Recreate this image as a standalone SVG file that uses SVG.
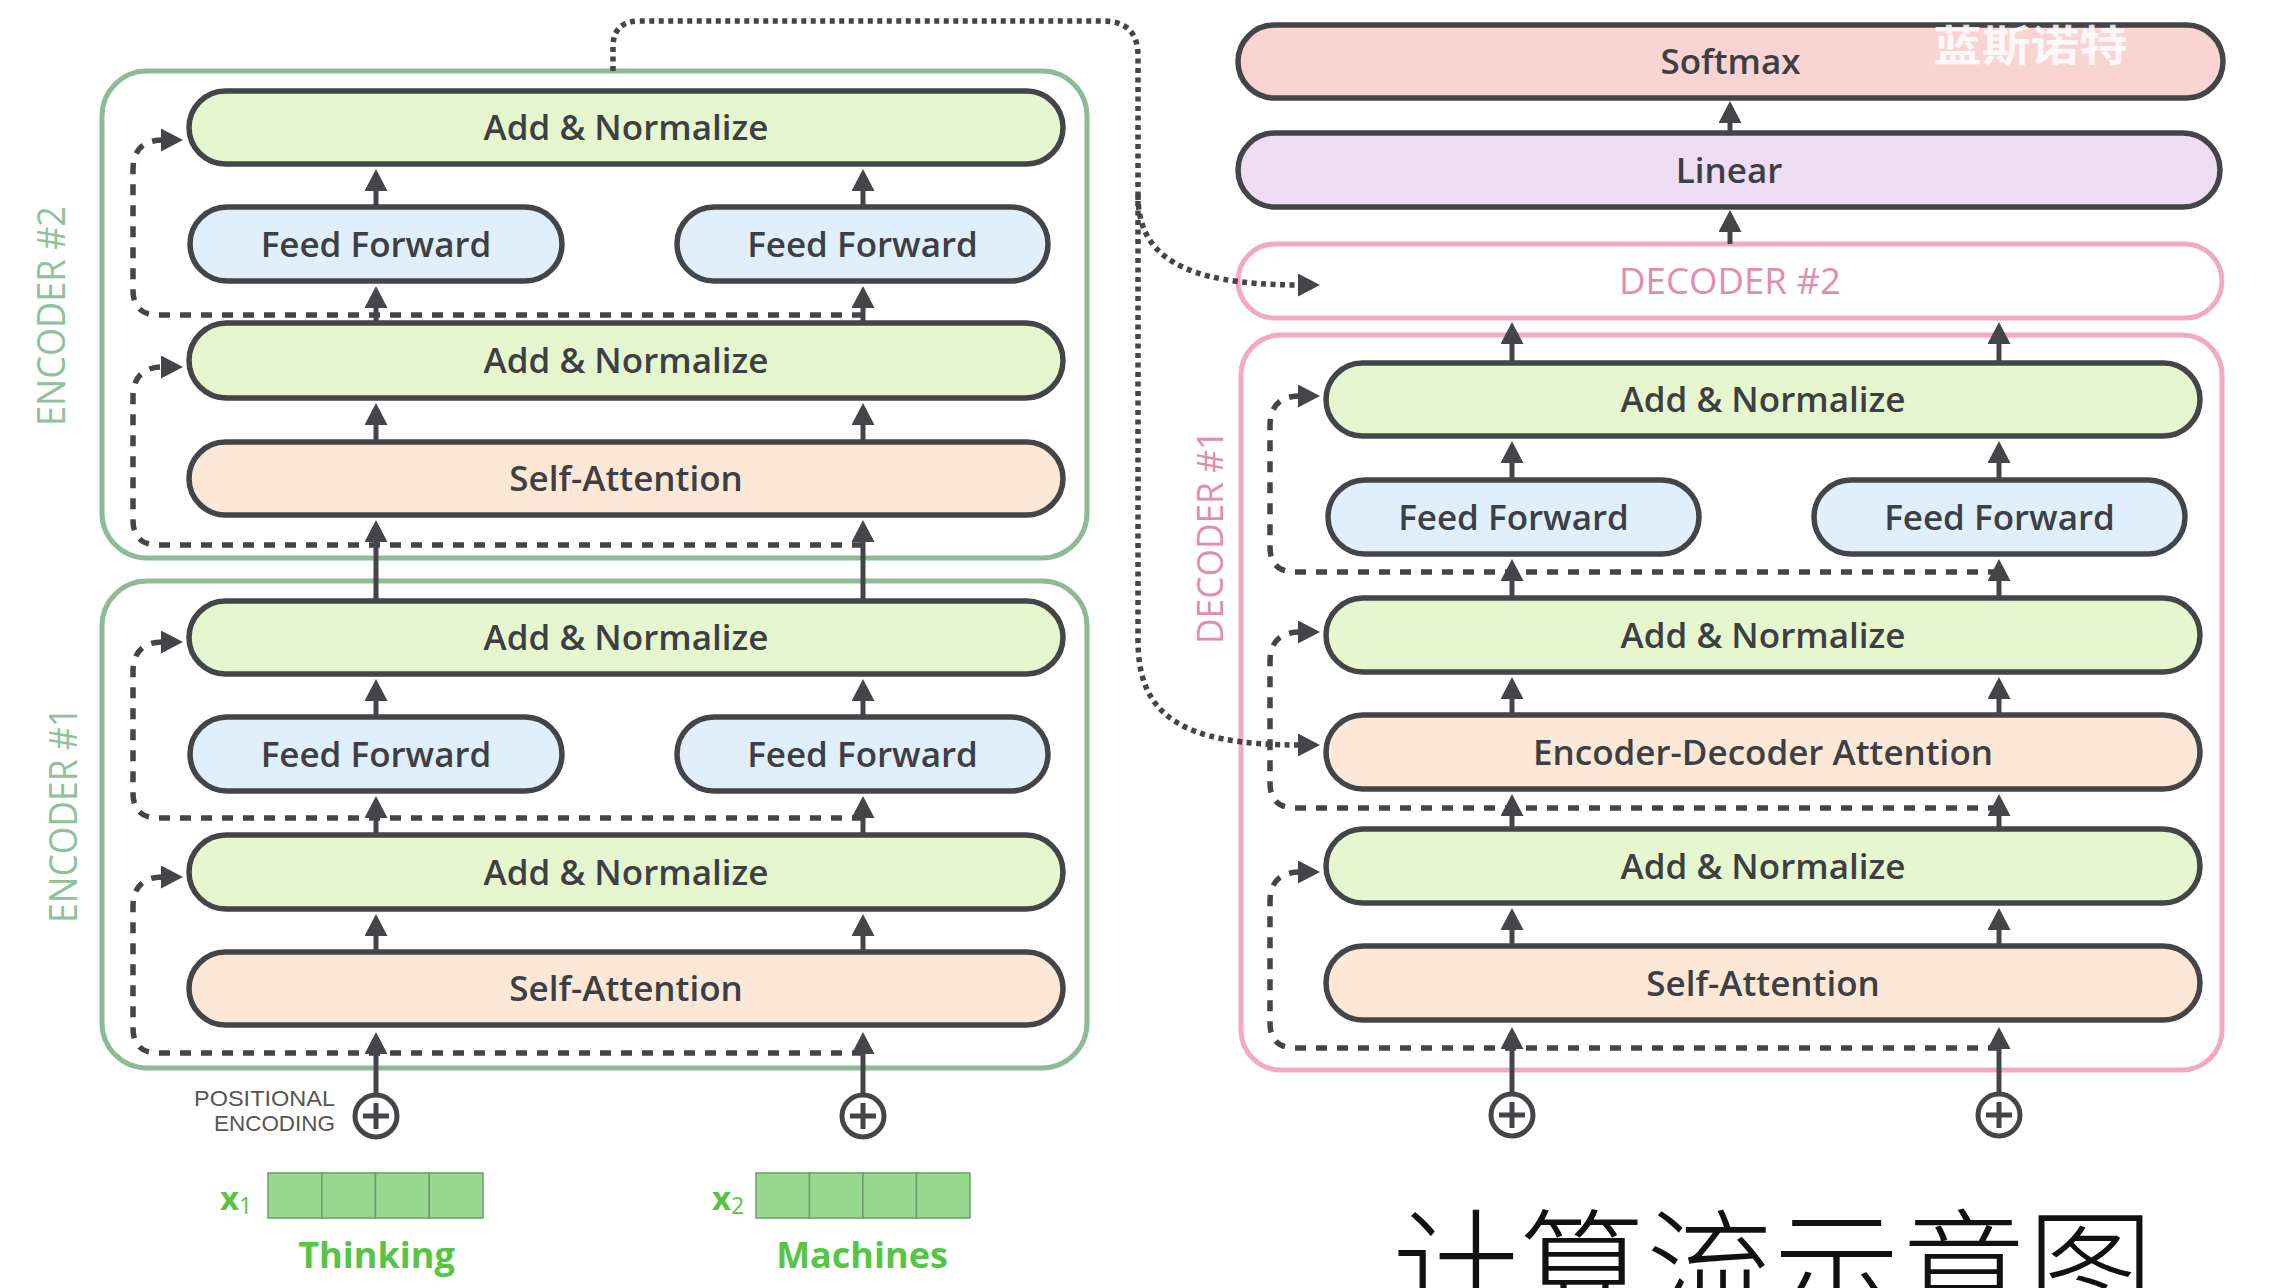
<svg xmlns="http://www.w3.org/2000/svg" width="2269" height="1288" viewBox="0 0 2269 1288">
<defs>
<style>
.bx{stroke:#434549;stroke-width:5.5}
.an{fill:#e6f7cf}.ff{fill:#e1eefb}.sa{fill:#fde8d8}.sm{fill:#fad4d3}.li{fill:#efdcf5}
.t{font-family:"Open Sans","Liberation Sans",sans-serif;font-weight:600;font-size:35px;fill:#3d4043;text-anchor:middle}
.enc{fill:none;stroke:#8fba98;stroke-width:5}
.dec{fill:none;stroke:#f3a8c6;stroke-width:5}
.el{font-family:"Open Sans","Liberation Sans",sans-serif;font-size:38px;fill:#8fc29b;text-anchor:middle}
.dl{font-family:"Open Sans","Liberation Sans",sans-serif;font-size:36px;fill:#e28db0;text-anchor:middle}
.ar{stroke:#434549;stroke-width:5;fill:none;marker-end:url(#ah)}
.da{stroke:#434549;stroke-width:5.5;fill:none;stroke-dasharray:11 10;marker-end:url(#ah)}
.dt{stroke:#434549;stroke-width:5.5;fill:none;stroke-dasharray:5 4.5;marker-end:url(#ah)}
.pl circle{fill:#fff;stroke:#434549;stroke-width:5}
.pl path{stroke:#434549;stroke-width:5;fill:none}
.cell{fill:#95d88e;stroke:#6f9a6f;stroke-width:1.5}
.gw{font-family:"Open Sans","Liberation Sans",sans-serif;font-weight:700;fill:#58c445}
.pe{font-family:"Liberation Sans","Open Sans",sans-serif;font-size:22px;fill:#555;text-anchor:end}
</style>
<marker id="ah" markerUnits="userSpaceOnUse" markerWidth="22" markerHeight="23" viewBox="0 0 22 23" refX="2" refY="11.5" orient="auto"><path d="M0,0 L22,11.5 L0,23 z" fill="#434549"/></marker>
</defs>
<rect width="2269" height="1288" fill="#fff"/>

<g id="encoder2-frame"><rect class="enc" x="102" y="71" width="985" height="487" rx="45"/><text class="el" transform="translate(51,316) rotate(-90)" y="14" textLength="220" lengthAdjust="spacingAndGlyphs">ENCODER #2</text></g>
<g id="encoder1-frame"><rect class="enc" x="102" y="581" width="985" height="487" rx="45"/><text class="el" transform="translate(63,815) rotate(-90)" y="14" textLength="216" lengthAdjust="spacingAndGlyphs">ENCODER #1</text></g>
<g id="decoder1-frame"><rect class="dec" x="1241" y="335" width="981" height="735" rx="40"/><text class="dl" transform="translate(1209,537) rotate(-90)" y="14" textLength="214" lengthAdjust="spacingAndGlyphs">DECODER #1</text></g>
<g id="decoder2"><rect x="1238" y="244" width="984" height="74" rx="37" fill="#fff" stroke="#f3a8c6" stroke-width="5"/><text class="dl" x="1730" y="294" textLength="222" lengthAdjust="spacingAndGlyphs">DECODER #2</text></g>

<g id="connectors">
<path class="da" d="M863 315 H158 Q133 315 133 290 V170 Q133 140 163 140"/>
<path class="da" d="M863 545 H158 Q133 545 133 520 V397 Q133 367 163 367"/>
<path class="da" d="M863 818 H158 Q133 818 133 793 V672 Q133 642 163 642"/>
<path class="da" d="M863 1053 H158 Q133 1053 133 1028 V907 Q133 877 163 877"/>
<path class="da" d="M1999 572 H1295 Q1270 572 1270 547 V426 Q1270 396 1300 396"/>
<path class="da" d="M1999 808 H1295 Q1270 808 1270 783 V662 Q1270 632 1300 632"/>
<path class="da" d="M1999 1048 H1295 Q1270 1048 1270 1023 V902 Q1270 872 1300 872"/>
<path class="dt" d="M613 71 V47 Q613 21 640 21 H1103 Q1138 21 1138 56 V640 C1138 715 1180 745 1300 745"/>
<path class="dt" d="M1138 195 C1138 255 1180 285 1300 285"/>
<path class="ar" d="M376 207 V189"/><path class="ar" d="M863 207 V189"/>
<path class="ar" d="M376 323 V306"/><path class="ar" d="M863 323 V306"/>
<path class="ar" d="M376 442 V423"/><path class="ar" d="M863 442 V423"/>
<path class="ar" d="M376 601 V540"/><path class="ar" d="M863 601 V540"/>
<path class="ar" d="M376 717 V699"/><path class="ar" d="M863 717 V699"/>
<path class="ar" d="M376 835 V816"/><path class="ar" d="M863 835 V816"/>
<path class="ar" d="M376 952 V934"/><path class="ar" d="M863 952 V934"/>
<path class="ar" d="M376 1095 V1052"/><path class="ar" d="M863 1095 V1052"/>
<path class="ar" d="M1512 1094 V1047"/><path class="ar" d="M1999 1094 V1047"/>
<path class="ar" d="M1512 946 V928"/><path class="ar" d="M1999 946 V928"/>
<path class="ar" d="M1512 829 V814"/><path class="ar" d="M1999 829 V814"/>
<path class="ar" d="M1512 715 V697"/><path class="ar" d="M1999 715 V697"/>
<path class="ar" d="M1512 598 V579"/><path class="ar" d="M1999 598 V579"/>
<path class="ar" d="M1512 480 V461"/><path class="ar" d="M1999 480 V461"/>
<path class="ar" d="M1512 363 V342"/><path class="ar" d="M1999 363 V342"/>
<path class="ar" d="M1730 244 V230"/>
<path class="ar" d="M1730 133 V121"/>
</g>

<g id="e2-an1"><rect class="bx an" x="189" y="91" width="874" height="73" rx="36.5"/><text class="t" x="626" y="140">Add &amp; Normalize</text></g>
<g id="e2-ff1"><rect class="bx ff" x="190" y="207" width="372" height="74" rx="37"/><text class="t" x="376" y="256.5">Feed Forward</text></g>
<g id="e2-ff2"><rect class="bx ff" x="677" y="207" width="371" height="74" rx="37"/><text class="t" x="862.5" y="256.5">Feed Forward</text></g>
<g id="e2-an2"><rect class="bx an" x="189" y="323" width="874" height="75" rx="37.5"/><text class="t" x="626" y="373">Add &amp; Normalize</text></g>
<g id="e2-sa"><rect class="bx sa" x="189" y="442" width="874" height="73" rx="36.5"/><text class="t" x="626" y="491">Self-Attention</text></g>

<g id="e1-an1"><rect class="bx an" x="189" y="601" width="874" height="73" rx="36.5"/><text class="t" x="626" y="650">Add &amp; Normalize</text></g>
<g id="e1-ff1"><rect class="bx ff" x="190" y="717" width="372" height="74" rx="37"/><text class="t" x="376" y="766.5">Feed Forward</text></g>
<g id="e1-ff2"><rect class="bx ff" x="677" y="717" width="371" height="74" rx="37"/><text class="t" x="862.5" y="766.5">Feed Forward</text></g>
<g id="e1-an2"><rect class="bx an" x="189" y="835" width="874" height="74" rx="37"/><text class="t" x="626" y="884.5">Add &amp; Normalize</text></g>
<g id="e1-sa"><rect class="bx sa" x="189" y="952" width="874" height="73" rx="36.5"/><text class="t" x="626" y="1001">Self-Attention</text></g>

<g id="softmax"><rect class="bx sm" x="1238" y="25" width="985" height="73" rx="36.5"/><text class="t" x="1730.5" y="74">Softmax</text></g>
<g id="linear"><rect class="bx li" x="1238" y="133" width="982" height="74" rx="37"/><text class="t" x="1729" y="182.5">Linear</text></g>
<g id="d-an1"><rect class="bx an" x="1326" y="363" width="874" height="73" rx="36.5"/><text class="t" x="1763" y="412">Add &amp; Normalize</text></g>
<g id="d-ff1"><rect class="bx ff" x="1328" y="480" width="371" height="74" rx="37"/><text class="t" x="1513.5" y="529.5">Feed Forward</text></g>
<g id="d-ff2"><rect class="bx ff" x="1814" y="480" width="371" height="74" rx="37"/><text class="t" x="1999.5" y="529.5">Feed Forward</text></g>
<g id="d-an2"><rect class="bx an" x="1326" y="598" width="874" height="74" rx="37"/><text class="t" x="1763" y="647.5">Add &amp; Normalize</text></g>
<g id="d-eda"><rect class="bx sa" x="1326" y="715" width="874" height="74" rx="37"/><text class="t" x="1763" y="764.5">Encoder-Decoder Attention</text></g>
<g id="d-an3"><rect class="bx an" x="1326" y="829" width="874" height="74" rx="37"/><text class="t" x="1763" y="878.5">Add &amp; Normalize</text></g>
<g id="d-sa"><rect class="bx sa" x="1326" y="946" width="874" height="74" rx="37"/><text class="t" x="1763" y="995.5">Self-Attention</text></g>

<g id="plus-e1" class="pl"><circle cx="376" cy="1116" r="21"/><path d="M363 1116 H389 M376 1103 V1129"/></g>
<g id="plus-e2" class="pl"><circle cx="863" cy="1116" r="21"/><path d="M850 1116 H876 M863 1103 V1129"/></g>
<g id="plus-d1" class="pl"><circle cx="1512" cy="1115" r="21"/><path d="M1499 1115 H1525 M1512 1102 V1128"/></g>
<g id="plus-d2" class="pl"><circle cx="1999" cy="1115" r="21"/><path d="M1986 1115 H2012 M1999 1102 V1128"/></g>

<g id="pos-enc"><text class="pe" x="335" y="1106" textLength="141" lengthAdjust="spacingAndGlyphs">POSITIONAL</text><text class="pe" x="335" y="1131" textLength="121" lengthAdjust="spacingAndGlyphs">ENCODING</text></g>

<g id="x1">
<rect class="cell" x="268" y="1173" width="53.75" height="45"/><rect class="cell" x="321.75" y="1173" width="53.75" height="45"/><rect class="cell" x="375.5" y="1173" width="53.75" height="45"/><rect class="cell" x="429.25" y="1173" width="53.75" height="45"/>
<text class="gw" x="220" y="1210" font-size="33">x<tspan font-size="23" font-weight="400" dy="4">1</tspan></text>
<text class="gw" x="376.5" y="1268" font-size="36" text-anchor="middle">Thinking</text>
</g>
<g id="x2">
<rect class="cell" x="756" y="1173" width="53.5" height="45"/><rect class="cell" x="809.5" y="1173" width="53.5" height="45"/><rect class="cell" x="863" y="1173" width="53.5" height="45"/><rect class="cell" x="916.5" y="1173" width="53.5" height="45"/>
<text class="gw" x="712" y="1210" font-size="33">x<tspan font-size="23" font-weight="400" dy="4">2</tspan></text>
<text class="gw" x="862" y="1268" font-size="36" text-anchor="middle">Machines</text>
</g>

<text x="1933" y="61" font-family="'Noto Sans CJK SC',sans-serif" font-size="42" font-weight="700" fill="#fff" fill-opacity="0.85" textLength="195" lengthAdjust="spacingAndGlyphs">蓝斯诺特</text>
<text x="1392" y="1316" font-family="'Liberation Serif','Noto Sans CJK SC',serif" font-size="127" font-weight="300" fill="#111">计算流示意图</text>
</svg>
